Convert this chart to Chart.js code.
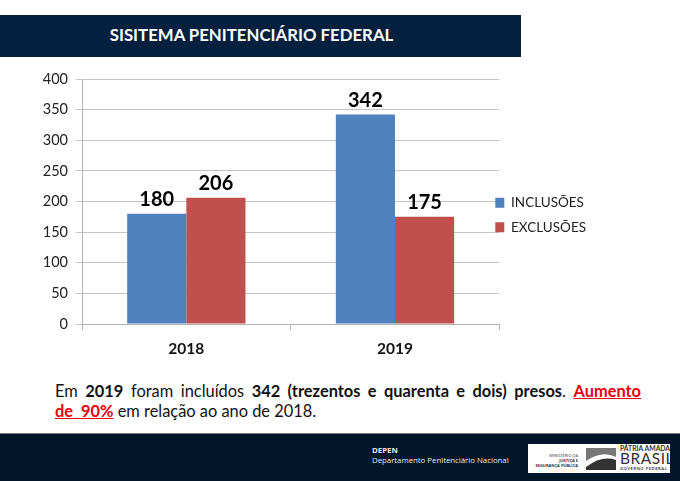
<!DOCTYPE html>
<html>
<head>
<meta charset="utf-8">
<script src="https://cdn.jsdelivr.net/npm/chart.js@4"></script>
<style>
  html, body { margin: 0; padding: 0; background: #fff; }
  body { width: 680px; height: 481px; position: relative; overflow: hidden; font-family: Lato, sans-serif; }
  .header { position: absolute; left: 0; top: 15px; width: 521px; height: 42px; background: #03213f; color: #fff;
    font-weight: 700; font-size: 16.8px; line-height: 40px; text-align: center; box-sizing: border-box; padding-right: 18px; }
  .chartBox { position: absolute; left: 0; top: 60px; width: 600px; height: 305px; }
  canvas { display: block; }
  .note { position: absolute; left: 55px; top: 381px; width: 586px; font-size: 16.4px; line-height: 20px; color: #111; }
  .note div:first-child { text-align: justify; text-align-last: justify; }
  .note u { color: #e8000d; font-weight: 700; }
  .footer { position: absolute; left: 0; top: 433px; width: 680px; height: 48px; background: #02162b; border-top: 1px solid #777; box-sizing: border-box; }
  .depen { position: absolute; left: 372px; top: 12px; color: #e8e8e8; font-size: 7.8px; line-height: 9.5px; font-family: "Open Sans", sans-serif; }
  .logo { position: absolute; left: 528px; top: 10px; width: 142px; height: 29px; background: #fff; color: #333; overflow: hidden; }
  .logo .mj { position: absolute; left: 1px; top: 9px; width: 49px; text-align: right; font-size: 4px; line-height: 5px; white-space: nowrap; font-family: "Open Sans", sans-serif; }
  .logo svg { position: absolute; left: 58px; top: 4px; }
  .logo .pa { position: absolute; left: 92px; top: 0px; font-size: 6.8px; font-weight: 700; line-height: 9px; white-space: nowrap; }
  .logo .br { position: absolute; left: 92px; top: 6px; font-size: 15.5px; letter-spacing: 0.5px; line-height: 17px; }
  .logo .gf { position: absolute; left: 92px; top: 22px; font-size: 4px; line-height: 6px; font-weight: 700; letter-spacing: 0.6px; white-space: nowrap; }
</style>
</head>
<body>
<div class="header">SISITEMA PENITENCIÁRIO FEDERAL</div>
<div class="chartBox"><canvas id="myChart" width="600" height="305"></canvas></div>
<div class="note">
  <div>Em <b>2019</b> foram incluídos <b>342 (trezentos e quarenta e dois)</b> <b>presos</b>. <u>Aumento</u></div>
  <div><u>de&nbsp;&nbsp;90%</u> em relação ao ano de 2018.</div>
</div>
<div class="footer">
  <div class="depen"><b>DEPEN</b><br>Departamento Penitenciário Nacional</div>
  <div class="logo">
    <div class="mj">MINISTÉRIO DA<br><b>JUSTIÇA E<br>SEGURANÇA PÚBLICA</b></div>
    <svg width="30" height="22" viewBox="0 0 30 22"><path d="M0 0H30V9Q16 2 0 13Z" fill="#777"/><path d="M0 22H30V12Q16 7 0 19Z" fill="#333"/></svg>
    <div class="pa">PÁTRIA AMADA</div>
    <div class="br">BRASIL</div>
    <div class="gf">GOVERNO FEDERAL</div>
  </div>
</div>
<script>
var years = ["2018", "2019"];
var inclusoes = [180, 342];
var exclusoes = [206, 175];
var yTicks = [0, 50, 100, 150, 200, 250, 300, 350, 400];

// draws the bold number over each bar
var barValues = {
  id: "barValues",
  afterDatasetsDraw: function (chart) {
    var ctx = chart.ctx;
    ctx.save();
    ctx.font = "700 20px Lato";
    ctx.fillStyle = "#000";
    ctx.textAlign = "center";
    ctx.textBaseline = "bottom";
    chart.data.datasets.forEach(function (ds, i) {
      chart.getDatasetMeta(i).data.forEach(function (bar, j) {
        ctx.fillText(ds.data[j], bar.x, bar.y - 4);
      });
    });
    ctx.restore();
  }
};

// the legend sits tight against the plot, closer than the layout leaves it
var legendNudge = {
  id: "legendNudge",
  afterLayout: function (chart) {
    var l = chart.legend;
    l.left -= 15;
    l.right -= 13;
    l.top -= 7;
    l.bottom -= 7;
  }
};

new Chart(document.getElementById("myChart"), {
  type: "bar",
  data: {
    labels: years,
    datasets: [
      { label: "INCLUSÕES", data: inclusoes, backgroundColor: "#4f81bd" },
      { label: "EXCLUSÕES", data: exclusoes, backgroundColor: "#c0504d" }
    ]
  },
  plugins: [barValues, legendNudge],
  options: {
    responsive: false,
    animation: false,
    events: [],
    layout: { padding: { top: 19, left: 0, right: -11, bottom: 0 } },
    categoryPercentage: 0.567,
    barPercentage: 1,
    plugins: {
      tooltip: { enabled: false },
      legend: {
        position: "right",
        align: "center",
        labels: { boxWidth: 9, boxHeight: 10, font: { family: "Lato", size: 13.5 }, color: "#222", padding: 11 }
      }
    },
    scales: {
      x: {
        afterFit: function (scale) { scale.height = 41; },
        border: { color: "#b5b5b5" },
        grid: { drawOnChartArea: false, color: "#b5b5b5", tickLength: 6 },
        ticks: { color: "#111", font: { family: "Lato", size: 15.5, weight: "700" }, padding: 10 }
      },
      y: {
        min: 0,
        max: 400,
        afterBuildTicks: function (scale) { scale.ticks = yTicks.map(function (v) { return { value: v }; }); },
        afterFit: function (scale) { scale.width = 82; },
        border: { color: "#b5b5b5" },
        grid: { color: "#c4c4c4", tickLength: 6 },
        ticks: { color: "#222", font: { family: "Lato", size: 14.5 }, padding: 8 }
      }
    }
  }
});
</script>
</body>
</html>
